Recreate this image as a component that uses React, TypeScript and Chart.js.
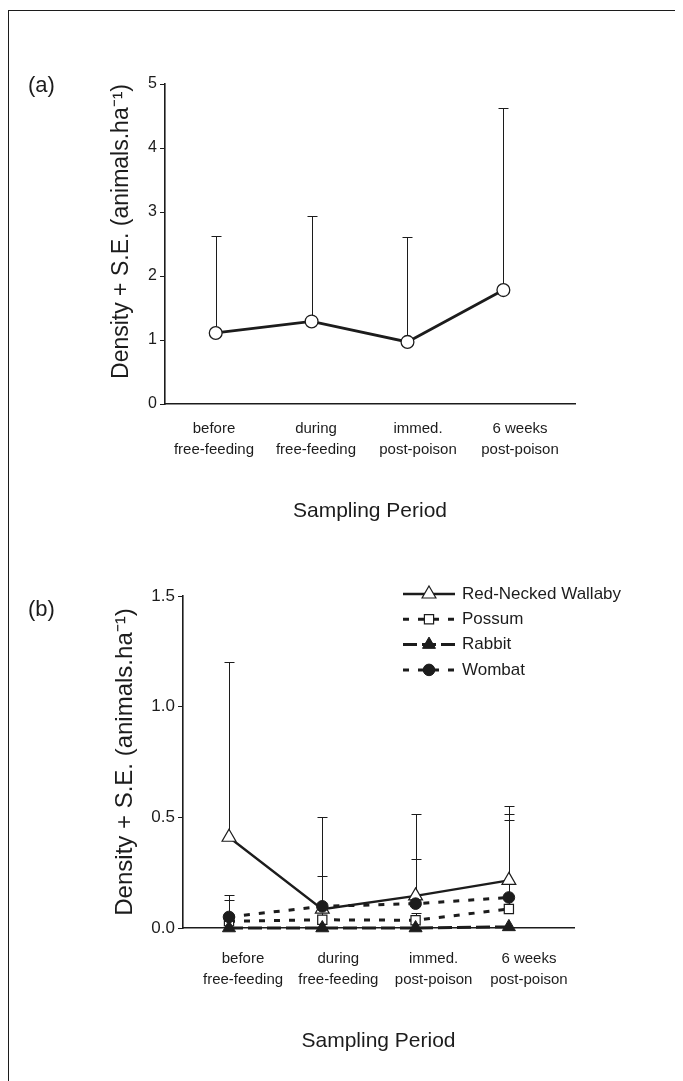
import React, { useEffect, useRef } from 'react';
import { Chart, registerables } from 'chart.js';

Chart.register(...registerables);

const FONT = "'Liberation Sans', Arial, Helvetica, sans-serif";
const INK = '#1c1c1c';

// ---------- data ----------
const periods: string[][] = [
  ['before', 'free-feeding'],
  ['during', 'free-feeding'],
  ['immed.', 'post-poison'],
  ['6 weeks', 'post-poison'],
];

// panel (a): all species combined
const aDensity = [1.11, 1.29, 0.97, 1.78];
const aUpper = [2.63, 2.93, 2.61, 4.62];
const aYTicks = [0, 1, 2, 3, 4, 5];

// panel (b): per species
const speciesNames = ['Red-Necked Wallaby', 'Possum', 'Rabbit', 'Wombat'];
const wallaby = [0.41, 0.085, 0.145, 0.215];
const wallabyUpper = [1.2, 0.5, 0.516, 0.552];
const possum = [0.03, 0.037, 0.035, 0.086];
const possumUpper = [0.127, 0.08, 0.07, 0.489];
const rabbit = [0.0, 0.0, 0.0, 0.005];
const rabbitUpper: (number | null)[] = [null, null, null, null];
const wombat = [0.05, 0.098, 0.11, 0.138];
const wombatUpper = [0.15, 0.233, 0.31, 0.516];
const bYTicks = [0, 0.5, 1.0, 1.5];

const yTitle = 'Density + S.E. (animals.ha\u207B\u00B9)';
const xTitle = 'Sampling Period';

// ---------- plugins ----------
const errorBarPlugin = {
  id: 'errorBars',
  beforeDatasetsDraw(chart: any) {
    const { ctx } = chart;
    const xs = chart.scales.x;
    const ys = chart.scales.y;
    chart.data.datasets.forEach((ds: any) => {
      const up = ds.upper;
      if (!up) return;
      ctx.save();
      ctx.strokeStyle = INK;
      ctx.lineWidth = 1;
      ds.data.forEach((p: any, i: number) => {
        const u = up[i];
        if (u == null) return;
        const x = Math.round(xs.getPixelForValue(p.x)) + 0.5;
        const y0 = ys.getPixelForValue(p.y);
        const y1 = Math.round(ys.getPixelForValue(u)) + 0.5;
        ctx.beginPath();
        ctx.moveTo(x, y0);
        ctx.lineTo(x, y1);
        ctx.moveTo(x - 5, y1);
        ctx.lineTo(x + 5, y1);
        ctx.stroke();
      });
      ctx.restore();
    });
  },
};

function drawMarker(ctx: CanvasRenderingContext2D, style: string, x: number, y: number, r: number, fill: string, stroke: string, bw: number) {
  ctx.beginPath();
  if (style === 'triangle') {
    const a = 2 * Math.PI / 3;
    ctx.moveTo(x, y - r);
    ctx.lineTo(x + Math.sin(a) * r, y - Math.cos(a) * r);
    ctx.lineTo(x + Math.sin(2 * a) * r, y - Math.cos(2 * a) * r);
    ctx.closePath();
  } else if (style === 'rect') {
    const s = r * Math.SQRT1_2;
    ctx.rect(x - s, y - s, 2 * s, 2 * s);
  } else {
    ctx.arc(x, y, r, 0, Math.PI * 2);
  }
  ctx.fillStyle = fill;
  ctx.fill();
  ctx.lineWidth = bw;
  ctx.strokeStyle = stroke;
  ctx.stroke();
}

const seriesLegendPlugin = {
  id: 'seriesLegend',
  afterDraw(chart: any, _args: any, opts: any) {
    if (!opts || !opts.display) return;
    const { ctx } = chart;
    chart.data.datasets.forEach((ds: any, i: number) => {
      const y = opts.top + i * opts.rowGap;
      ctx.save();
      ctx.strokeStyle = ds.borderColor;
      ctx.lineWidth = ds.borderWidth;
      ctx.setLineDash(ds.borderDash || []);
      ctx.beginPath();
      ctx.moveTo(opts.lineStart, y);
      ctx.lineTo(opts.lineEnd, y);
      ctx.stroke();
      ctx.setLineDash([]);
      drawMarker(ctx, ds.pointStyle, opts.markerX, y, ds.pointRadius, ds.pointBackgroundColor, ds.pointBorderColor, ds.pointBorderWidth);
      ctx.fillStyle = INK;
      ctx.font = `${opts.fontSize}px ${FONT}`;
      ctx.textBaseline = 'middle';
      ctx.textAlign = 'left';
      ctx.fillText(ds.label, opts.textX, y);
      ctx.restore();
    });
  },
};

// ---------- option builders ----------
function buildOptions(cfg: any) {
  return {
    responsive: false,
    animation: false as const,
    events: [],
    layout: { padding: cfg.padding },
    plugins: {
      legend: { display: false },
      tooltip: { enabled: false },
      title: { display: false },
      seriesLegend: cfg.legend || { display: false },
    },
    scales: {
      x: {
        type: 'linear',
        position: 'bottom',
        min: cfg.xMin,
        max: cfg.xMax,
        ticks: { display: false },
        grid: { display: false, drawTicks: false },
        border: { display: true, color: INK, width: 1.6 },
        afterFit: (s: any) => { s.height = 0; },
      },
      xl: {
        type: 'linear',
        position: 'bottom',
        min: cfg.lMin,
        max: cfg.lMax,
        afterBuildTicks: (s: any) => { s.ticks = periods.map((_, i) => ({ value: i })); },
        ticks: {
          autoSkip: false,
          maxRotation: 0,
          minRotation: 0,
          padding: cfg.labelPad,
          color: INK,
          font: { family: FONT, size: 15, lineHeight: 1.35 },
          callback: (v: number) => periods[Math.round(v)] || '',
        },
        grid: { display: false, drawTicks: false },
        border: { display: false },
        title: {
          display: true,
          text: xTitle,
          color: INK,
          font: { family: FONT, size: 21 },
          padding: { top: 0, bottom: 0 },
        },
        afterFit: (s: any) => { s.height = cfg.xlHeight; },
      },
      y: {
        type: 'linear',
        position: 'left',
        min: cfg.yTicks[0],
        max: cfg.yTicks[cfg.yTicks.length - 1],
        afterBuildTicks: (s: any) => { s.ticks = cfg.yTicks.map((v: number) => ({ value: v })); },
        ticks: {
          padding: 3,
          color: INK,
          font: { family: FONT, size: cfg.yTickSize },
          callback: cfg.yFmt,
        },
        grid: { display: true, drawOnChartArea: false, drawTicks: true, tickLength: 5, color: INK, lineWidth: 1 },
        border: { display: true, color: INK, width: 1.6 },
        title: {
          display: true,
          text: yTitle,
          color: INK,
          align: cfg.yTitleAlign,
          font: { family: FONT, size: cfg.yTitleSize },
          padding: { top: 0, bottom: 0 },
        },
        afterFit: (s: any) => { s.width = cfg.yWidth; },
      },
    },
  };
}

const pts = (vals: number[]) => vals.map((v, i) => ({ x: i, y: v }));

function ChartA() {
  const ref = useRef<HTMLCanvasElement>(null);
  useEffect(() => {
    const chart = new Chart(ref.current as HTMLCanvasElement, {
      type: 'line',
      data: {
        datasets: [
          {
            label: 'Density',
            data: pts(aDensity),
            upper: aUpper,
            borderColor: INK,
            borderWidth: 2.8,
            pointStyle: 'circle',
            pointRadius: 6.4,
            pointBackgroundColor: '#ffffff',
            pointBorderColor: INK,
            pointBorderWidth: 1.3,
            clip: false,
          } as any,
        ],
      },
      options: buildOptions({
        padding: { left: 100, right: 108, top: 76, bottom: 4 },
        xMin: -0.529, xMax: 3.747,
        lMin: -0.48, lMax: 3.539,
        labelPad: 15,
        xlHeight: 120,
        yTicks: aYTicks,
        yTickSize: 16,
        yFmt: (v: number) => String(v),
        yWidth: 57,
        yTitleAlign: 'end',
        yTitleSize: 23,
      }) as any,
      plugins: [errorBarPlugin],
    });
    return () => chart.destroy();
  }, []);
  return <canvas ref={ref} width={675} height={520} style={{ position: 'absolute', left: 0, top: 0 }} />;
}

function ChartB() {
  const ref = useRef<HTMLCanvasElement>(null);
  useEffect(() => {
    const common = { borderColor: INK, pointBorderColor: INK, clip: false, borderCapStyle: 'butt' };
    const chart = new Chart(ref.current as HTMLCanvasElement, {
      type: 'line',
      data: {
        datasets: [
          {
            ...common,
            label: speciesNames[0],
            data: pts(wallaby),
            upper: wallabyUpper,
            borderWidth: 2.3,
            pointStyle: 'triangle',
            pointRadius: 8,
            pointBackgroundColor: '#ffffff',
            pointBorderWidth: 1.2,
            order: 4,
          },
          {
            ...common,
            label: speciesNames[1],
            data: pts(possum),
            upper: possumUpper,
            borderWidth: 3,
            borderDash: [6, 9],
            pointStyle: 'rect',
            pointRadius: 6.5,
            pointBackgroundColor: '#ffffff',
            pointBorderWidth: 1.2,
            order: 3,
          },
          {
            ...common,
            label: speciesNames[2],
            data: pts(rabbit),
            upper: rabbitUpper,
            borderWidth: 3,
            borderDash: [14, 5],
            pointStyle: 'triangle',
            pointRadius: 7.5,
            pointBackgroundColor: INK,
            pointBorderWidth: 1,
            order: 1,
          },
          {
            ...common,
            label: speciesNames[3],
            data: pts(wombat),
            upper: wombatUpper,
            borderWidth: 3,
            borderDash: [6, 9],
            pointStyle: 'circle',
            pointRadius: 5.8,
            pointBackgroundColor: INK,
            pointBorderWidth: 1,
            order: 2,
          },
        ] as any,
      },
      options: buildOptions({
        padding: { left: 103, right: 109, top: 58, bottom: 14 },
        xMin: -0.493, xMax: 3.698,
        lMin: -0.63, lMax: 3.473,
        labelPad: 21,
        xlHeight: 126,
        yTicks: bYTicks,
        yTickSize: 17,
        yFmt: (v: number) => v.toFixed(1),
        yWidth: 72,
        yTitleAlign: 'center',
        yTitleSize: 24,
        legend: {
          display: true,
          top: 56,
          rowGap: 25.3,
          lineStart: 395,
          lineEnd: 447,
          markerX: 421,
          textX: 454,
          fontSize: 17,
        },
      }) as any,
      plugins: [errorBarPlugin, seriesLegendPlugin],
    });
    return () => chart.destroy();
  }, []);
  return <canvas ref={ref} width={675} height={530} style={{ position: 'absolute', left: 0, top: 530 }} />;
}

export default function App() {
  const panelLabel: React.CSSProperties = {
    position: 'absolute',
    left: 20,
    fontFamily: FONT,
    fontSize: 22,
    lineHeight: '22px',
    color: INK,
  };
  return (
    <div style={{ position: 'relative', width: 675, height: 1073, background: '#fff' }}>
      <div
        style={{
          position: 'absolute',
          left: 0,
          top: 2,
          width: 675,
          height: 1071,
          borderTop: `1px solid ${INK}`,
          borderLeft: `1px solid ${INK}`,
          boxSizing: 'border-box',
        }}
      />
      <ChartA />
      <ChartB />
      <div style={{ ...panelLabel, top: 66 }}>(a)</div>
      <div style={{ ...panelLabel, top: 590 }}>(b)</div>
    </div>
  );
}
